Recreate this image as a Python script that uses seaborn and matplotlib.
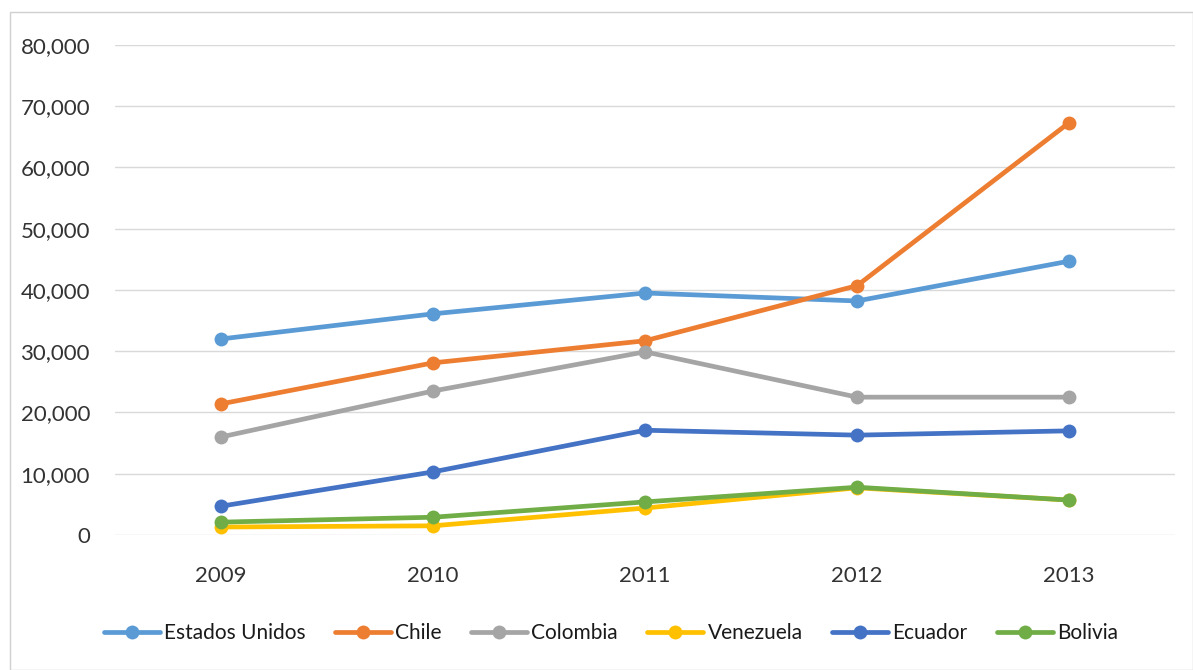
import matplotlib
matplotlib.use("Agg")
import matplotlib.pyplot as plt
import matplotlib.ticker as mticker
from matplotlib.patches import Rectangle
import seaborn as sns
import pandas as pd

years = ["2009", "2010", "2011", "2012", "2013"]
countries = ["Estados Unidos", "Chile", "Colombia", "Venezuela", "Ecuador", "Bolivia"]
estados_unidos = [32000, 36100, 39500, 38200, 44700]
chile = [21400, 28100, 31700, 40700, 67300]
colombia = [16000, 23500, 29900, 22500, 22500]
venezuela = [1300, 1500, 4400, 7700, 5700]
ecuador = [4700, 10300, 17100, 16300, 17000]
bolivia = [2100, 2900, 5400, 7800, 5700]
colors = ["#5B9BD5", "#ED7D31", "#A5A5A5", "#FFC000", "#4472C4", "#70AD47"]

series = [estados_unidos, chile, colombia, venezuela, ecuador, bolivia]
rows = []
for name, vals in zip(countries, series):
    for i, (yr, v) in enumerate(zip(years, vals)):
        rows.append({"pos": i, "year": yr, "country": name, "value": v})
df = pd.DataFrame(rows)

sns.set_theme(style="white")
plt.rcParams["font.family"] = ["Lato", "DejaVu Sans"]

fig = plt.figure(figsize=(11.93, 6.70), dpi=100)
ax = fig.add_axes([0.0964, 0.2015, 0.8886, 0.7315])

sns.lineplot(data=df, x="pos", y="value", hue="country", hue_order=countries,
             palette=colors, marker="o", markersize=10, linewidth=3.4,
             markeredgewidth=0, ax=ax, legend=True, zorder=3)

ax.set_xlim(-0.5, 4.5)
ax.set_ylim(0, 80000)
ax.set_xticks(range(len(years)))
ax.set_xticklabels(years)
ax.set_yticks(range(0, 80001, 10000))
ax.yaxis.set_major_formatter(mticker.FuncFormatter(lambda v, p: f"{int(v):,}"))
ax.grid(axis="y", color="#D9D9D9", linewidth=1, zorder=0)
ax.set_axisbelow(True)
for s in ax.spines.values():
    s.set_visible(False)
ax.tick_params(axis="both", length=0, labelsize=16, colors="#333333")
ax.tick_params(axis="x", pad=22)
ax.tick_params(axis="y", pad=18)
ax.set_xlabel("")
ax.set_ylabel("")

handles, labels = ax.get_legend_handles_labels()
ax.legend_.remove()
fig.legend(handles, labels, loc="center", bbox_to_anchor=(0.512, 1 - 633 / 670),
           ncol=6, frameon=False, fontsize=15, handlelength=2.7,
           handletextpad=0.2, columnspacing=1.4, labelcolor="#1a1a1a")

fig.patches.append(Rectangle((10 / 1193, 0), 1 - 10 / 1193, 1 - 12 / 670,
                             transform=fig.transFigure, fill=False,
                             edgecolor="#D0D0D0", linewidth=1))

fig.savefig("out.png", dpi=100)
